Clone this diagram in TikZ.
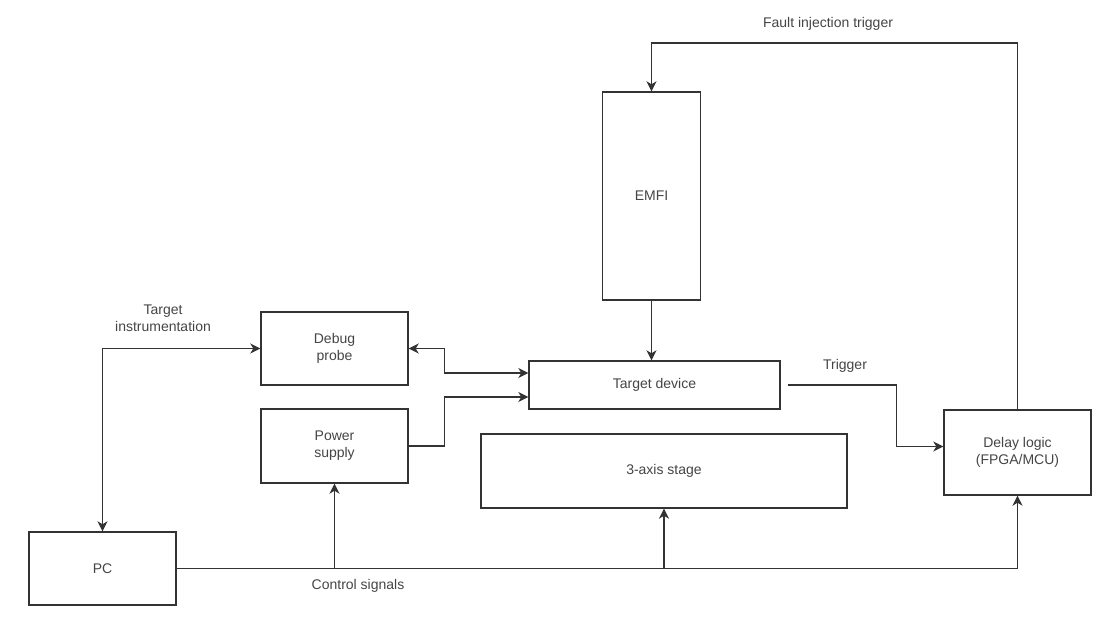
\documentclass[tikz,border=0pt]{standalone}
\usepackage{fontspec}
\setmainfont{Liberation Sans}
\usepackage{tikz}
\usetikzlibrary{arrows.meta}

\definecolor{linegray}{HTML}{333333}
\definecolor{textgray}{HTML}{454545}

\begin{document}
\begin{tikzpicture}[x=1pt, y=-1pt,
	every node/.style={font=\fontsize{14}{17}\selectfont, text=textgray},
	block/.style={draw=linegray, line width=1.4pt, fill=white, align=center, inner sep=0pt},
	wire/.style={draw=linegray, line width=1.4pt},
	>={Stealth[length=10pt, width=10pt, inset=3pt]}]
	\useasboundingbox (0,0) rectangle (1108,618);
	% blocks
	\node[block, minimum width=98pt, minimum height=208pt] (emfi) at (651.5,196) {EMFI};
	\node[block, minimum width=251pt, minimum height=48pt] (target) at (654.5,385) {Target device};
	\node[block, minimum width=147pt, minimum height=73pt] (debug) at (334.5,348.5) {Debug\\probe};
	\node[block, minimum width=147pt, minimum height=74pt] (power) at (334.5,446) {Power\\supply};
	\node[block, minimum width=366pt, minimum height=74pt] (stage) at (664,471) {3-axis stage};
	\node[block, minimum width=147pt, minimum height=85pt] (delay) at (1017.5,452.5) {Delay logic\\(FPGA/MCU)};
	\node[block, minimum width=147pt, minimum height=73pt] (pc) at (102.5,568.5) {PC};
	% connectors
	\draw[wire, ->] (delay.north) -- (delay.north |- 0,43) -| (emfi.north);
	\draw[wire, ->] (emfi.south) -- (emfi.south |- target.north);
	\draw[wire, <->] (debug.east) -- ++(36,0) |- ([yshift=12pt]target.west);
	\draw[wire, ->] (power.east) -- ++(36,0) |- ([yshift=-12pt]target.west);
	\draw[wire, ->] ([xshift=7pt]target.east) -- ++(109,0) |- ([yshift=6pt]delay.west);
	\draw[wire, ->] (pc.east) -| (delay.south);
	\draw[wire, ->] (pc.east -| power.south) -- (power.south);
	\draw[wire, ->] (pc.east -| stage.south) -- (stage.south);
	\draw[wire, <->] (pc.north) |- (debug.west);
	% labels
	\node[align=center] (lblinstr) at (163,318) {Target\\instrumentation};
	\node (lbltrig) at (845,366) {Trigger};
	\node (lblfault) at (828,24) {Fault injection trigger};
	\node (lblctrl) at (358,586) {Control signals};
\end{tikzpicture}
\end{document}
